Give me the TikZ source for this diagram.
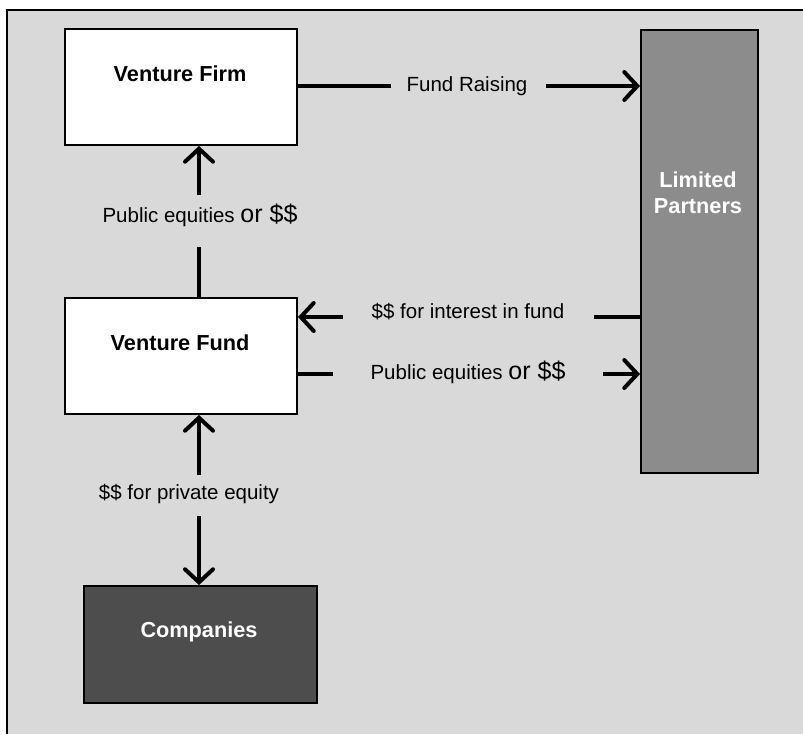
\documentclass[tikz,border=0pt]{standalone}
\usepackage{fontspec}
\setmainfont{Liberation Sans}
\usetikzlibrary{arrows.meta}
\definecolor{bg}{HTML}{D9D9D9}
\definecolor{lpgray}{HTML}{8C8C8C}
\definecolor{cogray}{HTML}{4D4D4D}
\tikzset{
  box/.style={draw=black, line width=2pt, inner sep=0pt, anchor=north west},
  boxtext/.style={font=\fontsize{21.7}{26}\selectfont\bfseries, anchor=base, inner sep=0pt},
  lbl/.style={font=\fontsize{20.5}{24}\selectfont, anchor=base, inner sep=0pt},
  conn/.style={line width=4pt},
  arr/.style={line width=4pt, -{Straight Barb[length=13pt,width=28pt,line cap=round]}},
}
\newcommand{\bigor}{{\fontsize{25}{28}\selectfont or \$\$}}
\begin{document}
\begin{tikzpicture}[x=1pt,y=-1pt]
\useasboundingbox (0,0) rectangle (803,734);
% background and frame
\fill[white] (0,0) rectangle (803,734);
\fill[bg] (7,10) rectangle (803,734);
\draw[line width=2pt] (7,734) -- (7,10) -- (803,10);

% boxes
\node[box, fill=white, minimum width=232pt, minimum height=116pt] (firm) at (64,28) {};
\node[box, fill=white, minimum width=232pt, minimum height=116pt] (fund) at (64,297) {};
\node[box, fill=cogray, minimum width=233pt, minimum height=117pt] (comp) at (83,585) {};
\node[box, fill=lpgray, minimum width=117pt, minimum height=443pt] (lp) at (640,29) {};

% box texts
\node[boxtext] (firmt) at (180,81) {Venture Firm};
\node[boxtext] (fundt) at (180,350) {Venture Fund};
\node[boxtext, text=white] (compt) at (199,637) {Companies};
\node[boxtext, text=white] (lpt1) at (698,187) {Limited};
\node[boxtext, text=white] (lpt2) at (698,213) {Partners};

% labels
\node[lbl] (fr) at (467,91) {Fund Raising};
\node[lbl] (pe1) at (200,222) {Public equities \bigor};
\node[lbl] (int) at (468,318) {\$\$ for interest in fund};
\node[lbl] (pe2) at (468,379) {Public equities \bigor};
\node[lbl] (priv) at (189,499) {\$\$ for private equity};

% gap coordinates
\coordinate (frA) at (391,86);
\coordinate (frB) at (546,86);
\coordinate (peA) at (199,195);
\coordinate (peB) at (199,247);
\coordinate (inA) at (343,317);
\coordinate (inB) at (594,317);
\coordinate (puA) at (333,374);
\coordinate (puB) at (603,374);
\coordinate (prA) at (199,475);
\coordinate (prB) at (199,516);

% connectors
\draw[conn] (firm.east |- frA) -- (frA);
\draw[arr] (frB) -- (lp.west |- frB);

\draw[conn] (fund.north -| peB) -- (peB);
\draw[arr] (peA) -- (firm.south -| peA);

\draw[conn] (lp.west |- inB) -- (inB);
\draw[arr] (inA) -- (fund.east |- inA);

\draw[conn] (fund.east |- puA) -- (puA);
\draw[arr] (puB) -- (lp.west |- puB);

\draw[arr] (prA) -- (fund.south -| prA);
\draw[arr] (prB) -- (comp.north -| prB);
\end{tikzpicture}
\end{document}
